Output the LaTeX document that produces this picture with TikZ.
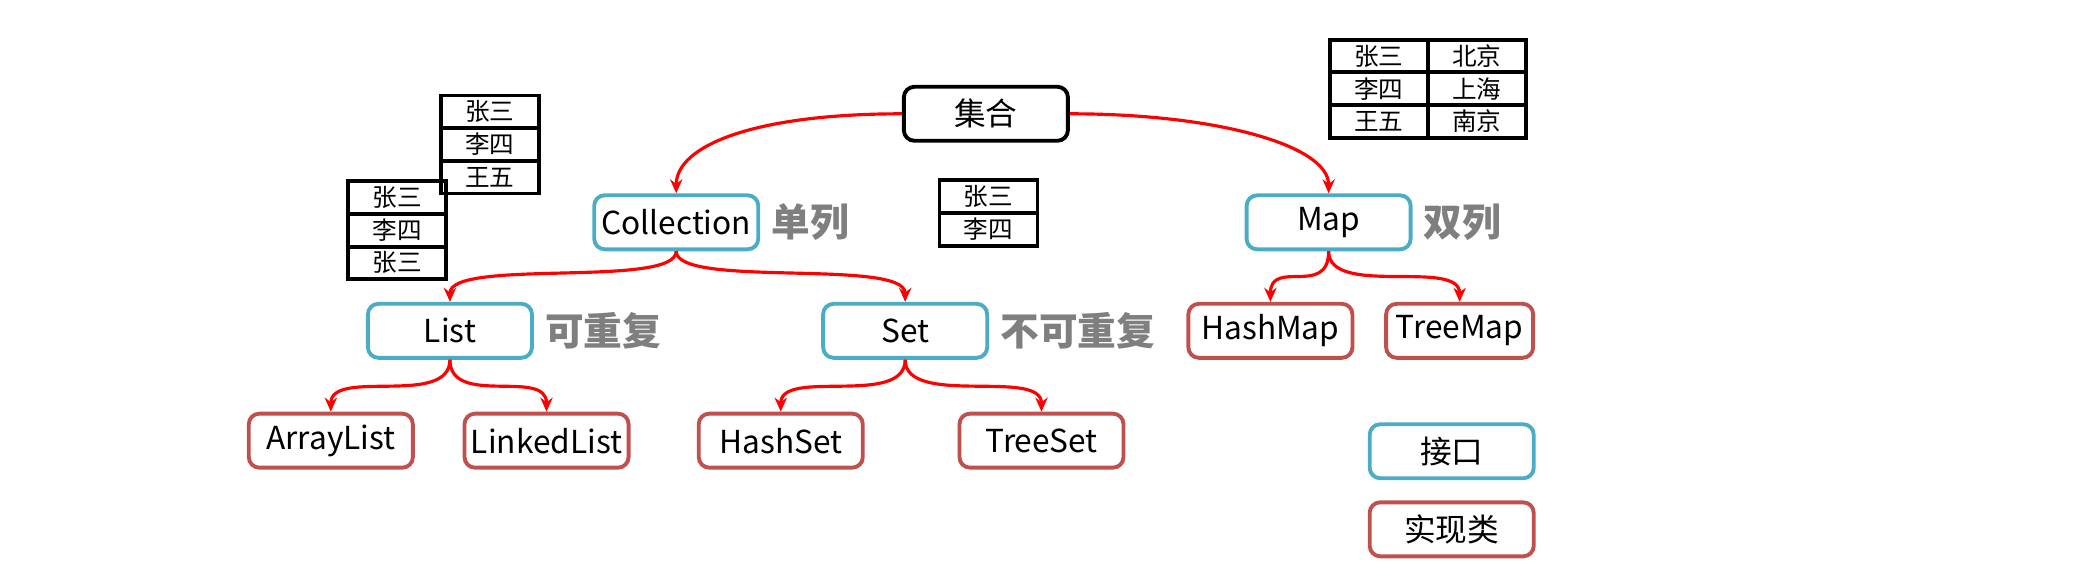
\documentclass[tikz,border=0pt]{standalone}
\usepackage{fontspec}
\setmainfont{Carlito}
\newfontfamily\cjk{Noto Sans CJK SC}
\usetikzlibrary{positioning,arrows.meta}
\definecolor{ifblue}{HTML}{4BACC6}
\definecolor{imred}{HTML}{C0504D}
\definecolor{notegray}{HTML}{7F7F7F}
\tikzset{
  box/.style={draw, rounded corners=3pt, line width=1.1pt, minimum width=1.64cm, minimum height=0.54cm, inner sep=0pt, font=\fontsize{9}{10}\selectfont\cjk},
  root/.style={box, draw=black},
  iface/.style={box, draw=ifblue},
  impl/.style={box, draw=imred},
  note/.style={font=\fontsize{11}{12}\selectfont\cjk\bfseries, text=notegray, inner sep=1pt},
  cell/.style={draw, line width=1.1pt, minimum width=0.98cm, minimum height=0.327cm, inner sep=0pt, font=\fontsize{7}{8}\selectfont\cjk},
  link/.style={red, line width=0.9pt, -{Stealth[length=4pt,width=3.5pt]}}
}
\begin{document}
\begin{tikzpicture}[x=0.01323cm, y=-0.01323cm]
\useasboundingbox (0,0) rectangle (1568,437);
% tree
\node[root] (set) at (745,86) {集合};
\node[iface] (coll) at (511,168) {Collection};
\node[iface] (map) at (1004,168) {Map};
\node[iface] (list) at (340,250) {List};
\node[iface] (hset) at (684,250) {Set};
\node[impl] (hashmap) at (960,250) {HashMap};
\node[impl, minimum width=1.47cm] (treemap) at (1103,250) {TreeMap};
\node[impl] (arraylist) at (250,333) {ArrayList};
\node[impl] (linkedlist) at (413,333) {LinkedList};
\node[impl] (hashset) at (590,333) {HashSet};
\node[impl] (treeset) at (787,333) {TreeSet};
% notes
\node[note, right=2pt of coll] {单列};
\node[note, right=2pt of map] {双列};
\node[note, right=2pt of list] {可重复};
\node[note, right=2pt of hset] {不可重复};
% legend
\node[iface] (legi) at (1097,341) {接口};
\node[impl] (legc) at (1097,400) {实现类};
% arrows
\draw[link] (set.west) .. controls (570,86) and (511,110) .. (coll.north);
\draw[link] (set.east) .. controls (920,86) and (1004,110) .. (map.north);
\draw[link] (coll.south) .. controls (511,218) and (340,195) .. (list.north);
\draw[link] (coll.south) .. controls (511,218) and (684,195) .. (hset.north);
\draw[link] (map.south) .. controls (1004,225) and (960,195) .. (hashmap.north);
\draw[link] (map.south) .. controls (1004,225) and (1103,195) .. (treemap.north);
\draw[link] (list.south) .. controls (340,308) and (250,278) .. (arraylist.north);
\draw[link] (list.south) .. controls (340,308) and (413,278) .. (linkedlist.north);
\draw[link] (hset.south) .. controls (684,308) and (590,278) .. (hashset.north);
\draw[link] (hset.south) .. controls (684,308) and (787,278) .. (treeset.north);
% tables
\node[cell] (a1) at (370,84.5) {张三};
\node[cell] (a2) at (370,109.2) {李四};
\node[cell] (a3) at (370,133.9) {王五};
\node[cell] (b1) at (300,149.3) {张三};
\node[cell] (b2) at (300,174) {李四};
\node[cell] (b3) at (300,198.7) {张三};
\node[cell] (c1) at (747,148.5) {张三};
\node[cell] (c2) at (747,173.5) {李四};
\node[cell] (d1) at (1042,42.3) {张三};
\node[cell] (d2) at (1042,67) {李四};
\node[cell] (d3) at (1042,91.7) {王五};
\node[cell] (e1) at (1116,42.3) {北京};
\node[cell] (e2) at (1116,67) {上海};
\node[cell] (e3) at (1116,91.7) {南京};
\end{tikzpicture}
\end{document}
